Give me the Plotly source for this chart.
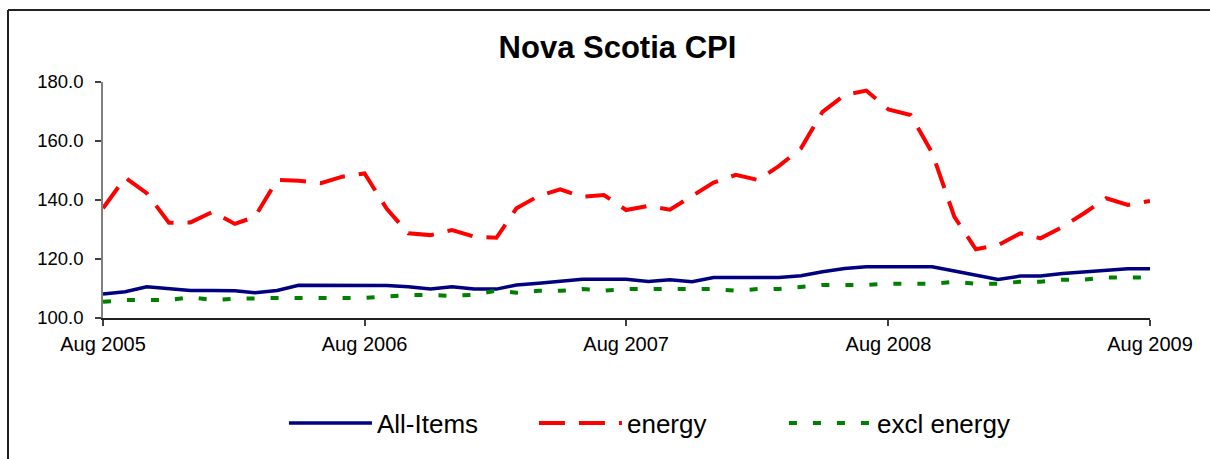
import pandas as pd
import plotly.graph_objects as go

months = pd.date_range("2005-08-01", "2009-08-01", freq="MS")

all_items = [108.1, 108.9, 110.6, 109.8, 109.3, 109.3, 109.2, 108.6, 109.3, 111.1,
             111.1, 111.1, 111.1, 111.0, 110.6, 109.8, 110.6, 109.8, 109.8, 111.2,
             111.8, 112.5, 113.1, 113.1, 113.1, 112.4, 113.0, 112.3, 113.7, 113.7,
             113.7, 113.7, 114.3, 115.7, 116.8, 117.4, 117.4, 117.4, 117.4, 115.9,
             114.5, 113.1, 114.2, 114.2, 115.1, 115.7, 116.3, 116.7, 116.7]

energy = [137.2, 147.6, 142.3, 132.3, 132.4, 136.0, 131.9, 134.3, 146.8, 146.5,
          145.7, 147.9, 149.0, 137.0, 128.7, 128.1, 129.8, 127.6, 127.2, 137.2,
          141.4, 143.6, 141.1, 141.7, 136.6, 138.0, 136.7, 141.4, 145.9, 148.5,
          146.8, 151.5, 157.5, 169.9, 175.6, 177.1, 170.7, 168.8, 156.0, 134.3,
          123.3, 124.7, 128.7, 127.0, 130.9, 135.5, 140.6, 138.3, 139.7]

excl_energy = [105.5, 106.1, 106.1, 106.1, 107.0, 106.1, 106.5, 106.8, 106.8, 106.8,
               106.8, 106.8, 106.8, 107.3, 107.8, 107.8, 107.5, 107.9, 109.3, 108.6,
               109.2, 109.2, 109.8, 109.3, 109.8, 109.8, 109.8, 109.8, 109.8, 109.3,
               109.8, 109.8, 110.5, 111.2, 111.2, 111.2, 111.6, 111.6, 111.6, 112.3,
               111.6, 111.6, 112.3, 112.3, 113.0, 113.0, 113.7, 113.7, 113.7]

tick_dates = ["2005-08-01", "2006-08-01", "2007-08-01", "2008-08-01", "2009-08-01"]
tick_labels = ["Aug 2005", "Aug 2006", "Aug 2007", "Aug 2008", "Aug 2009"]

FONT = "Liberation Sans, Arial, sans-serif"

fig = go.Figure()
fig.add_trace(go.Scatter(x=months, y=all_items, name="All-Items", mode="lines",
                         line=dict(color="#000080", width=3.5)))
fig.add_trace(go.Scatter(x=months, y=energy, name="energy", mode="lines",
                         line=dict(color="#FF0000", width=4, dash="26px,14px")))
fig.add_trace(go.Scatter(x=months, y=excl_energy, name="excl energy", mode="lines",
                         line=dict(color="#008000", width=4, dash="8px,16px")))

border_left = (8 - 103) / 1047
border_top = (318 - 10) / 236

fig.update_layout(
    width=1210, height=459,
    margin=dict(l=103, r=60, t=82, b=141),
    paper_bgcolor="white", plot_bgcolor="white",
    font=dict(family=FONT, color="black"),
    title=dict(text="<b>Nova Scotia CPI</b>", x=0.5103, xanchor="center",
               y=0.898, yanchor="middle", font=dict(size=31, family=FONT, color="black")),
    showlegend=True,
    legend=dict(orientation="h", x=0.531, xanchor="center", y=-0.445, yanchor="middle",
                font=dict(size=26, family=FONT), itemwidth=83, entrywidth=152,
                bgcolor="rgba(0,0,0,0)"),
    xaxis=dict(range=["2005-08-01", "2009-08-01"], tickvals=tick_dates, ticktext=tick_labels,
               showgrid=False, zeroline=False, showline=True, linecolor="#202020", linewidth=1.5,
               ticks="outside", ticklen=6, tickcolor="#404040", tickwidth=1.5,
               tickfont=dict(size=20, family=FONT, color="black"), ticklabelstandoff=1),
    yaxis=dict(range=[100, 180], dtick=20, tickformat=".1f",
               showgrid=False, zeroline=False, showline=True, linecolor="#808080", linewidth=1.5,
               ticks="outside", ticklen=6, tickcolor="#404040", tickwidth=1.5,
               tickfont=dict(size=18.5, family=FONT, color="black"), ticklabelstandoff=8),
    shapes=[
        dict(type="line", xref="paper", yref="paper", x0=border_left, x1=1.1,
             y0=border_top, y1=border_top, line=dict(color="#222222", width=2), layer="below"),
        dict(type="line", xref="paper", yref="paper", x0=border_left, x1=border_left,
             y0=-0.7, y1=border_top, line=dict(color="#222222", width=2), layer="below"),
    ],
)

fig.write_html(
    "out.html",
    config={"displayModeBar": False},
    post_script=(
        "document.documentElement.style.overflow='hidden';"
        "document.documentElement.style.margin='0';"
        "document.body.style.margin='0';"
        "document.body.style.overflow='hidden';"
    ),
)
